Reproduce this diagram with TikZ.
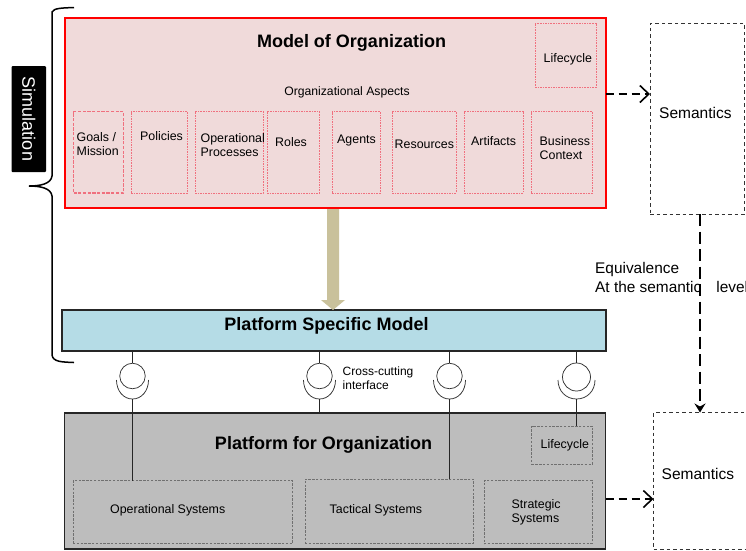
\documentclass[tikz,border=0pt]{standalone}
\usepackage{fontspec}
\setmainfont{Liberation Sans}
\usetikzlibrary{arrows.meta}
\definecolor{modelfill}{HTML}{F0DADA}
\definecolor{psmfill}{HTML}{B5DCE6}
\definecolor{platfill}{HTML}{BDBDBD}
\definecolor{khaki}{HTML}{C9C19B}
\definecolor{dashred}{HTML}{F0707E}
\definecolor{dashgray}{HTML}{707070}
\newcommand{\fsz}[1]{\fontsize{#1pt}{#1pt}\selectfont}
\tikzset{
  x=1pt,y=-1pt,
  box/.style={anchor=north west,inner sep=0pt,outer sep=0pt},
  aspect/.style={box,draw=dashred,dash pattern=on 1.6pt off 1pt,line width=1pt},
  goalaspect/.style={box,draw=dashred,dash pattern=on 3.2pt off 1.5pt,line width=1.4pt},
  sysbox/.style={box,draw=dashgray,dash pattern=on 2.4pt off 1.4pt,line width=0.8pt},
  sembox/.style={box,draw=black!80,dash pattern=on 3.5pt off 3pt,line width=0.75pt},
  label/.style={inner sep=0pt,align=left,anchor=west,font=\fsz{12.4}},
  title/.style={inner sep=0pt,font=\fsz{18}\bfseries},
  semlabel/.style={inner sep=0pt,anchor=west,font=\fsz{15.5}},
  dasharrow/.style={line width=1.6pt,dash pattern=on 8pt off 5pt,-{Straight Barb[length=9pt,width=17pt,line width=1.6pt]}},
  vdasharrow/.style={line width=1.6pt,dash pattern=on 12pt off 5.5pt,-{Stealth[length=9pt,width=11pt,inset=3pt]}},
  ball/.style={circle,draw=black!80,line width=0.75pt,inner sep=0pt,outer sep=0pt},
  socket/.style={draw=black!80,line width=0.75pt},
  wire/.style={draw=black!85,line width=1pt}
}
\begin{document}
\begin{tikzpicture}
\useasboundingbox (0,0) rectangle (746,550);
% main boxes
\node[box,fill=modelfill,draw=red,line width=2pt,minimum width=541pt,minimum height=190pt] (model) at (64.5,18) {};
\node[box,fill=psmfill,draw=black!85,line width=2pt,minimum width=544pt,minimum height=41pt] (psm) at (62,310) {};
\node[box,fill=platfill,draw=black!85,line width=1.6pt,minimum width=541pt,minimum height=136pt] (plat) at (64.5,413) {};
\node[sembox,minimum width=94pt,minimum height=191pt] (semtop) at (650,23) {};
\node[sembox,minimum width=110pt,minimum height=137pt] (sembot) at (653.5,412.5) {};
% titles
\node[title] at (351.5,43) {Model of Organization};
\node[title] at (326.5,325.5) {Platform Specific Model};
\node[title] at (323.5,445) {Platform for Organization};
\node[inner sep=0pt,font=\fsz{12.2}] at (347,92) {Organizational Aspects};
% aspects
\node[goalaspect,minimum width=50pt,minimum height=81.5pt] (a1) at (73.5,111.5) {};
\node[aspect,minimum width=56pt,minimum height=81.5pt] (a2) at (131,111.5) {};
\node[aspect,minimum width=68pt,minimum height=81.5pt] (a3) at (195,111.5) {};
\node[aspect,minimum width=52.5pt,minimum height=81.5pt] (a4) at (267,111.5) {};
\node[aspect,minimum width=48pt,minimum height=81.5pt] (a5) at (332,111.5) {};
\node[aspect,minimum width=64pt,minimum height=81.5pt] (a6) at (392,111.5) {};
\node[aspect,minimum width=59pt,minimum height=81.5pt] (a7) at (464,111.5) {};
\node[aspect,minimum width=61pt,minimum height=81.5pt] (a8) at (531,111.5) {};
\node[aspect,minimum width=61pt,minimum height=64pt] (life) at (535,23) {};
\node[label] at (76.5,144) {Goals /\\[2pt]Mission};
\node[label] at (140,136.5) {Policies};
\node[label] at (200.5,145) {Operational\\[2pt]Processes};
\node[label] at (275,142) {Roles};
\node[label] at (337,140.5) {Agents};
\node[label] at (394.5,144) {Resources};
\node[label] at (471,141) {Artifacts};
\node[label] at (539.5,148) {Business\\[2pt]Context};
\node[label] at (543.5,59.5) {Lifecycle};
% platform inner
\node[sysbox,minimum width=219.5pt,minimum height=63pt] (ops) at (73,480.5) {};
\node[sysbox,minimum width=168.5pt,minimum height=64pt] (tac) at (305,479) {};
\node[sysbox,minimum width=108pt,minimum height=63pt] (str) at (484,480.5) {};
\node[sysbox,minimum width=61pt,minimum height=38pt] (plife) at (531.5,426) {};
\node[label] at (110,510.5) {Operational Systems};
\node[label] at (329.5,510) {Tactical Systems};
\node[label] at (511.5,512) {Strategic\\[2pt]Systems};
\node[label] at (540.5,445.5) {Lifecycle};
% semantics labels
\node[semlabel] at (659,113) {Semantics};
\node[semlabel] at (661.5,474) {Semantics};
% refinement arrow
\coordinate (ktop) at (333,208);
\fill[khaki] (model.south -| ktop) ++(-6,1) -- ++(12,0) -- (339,300) -- (345,300) -- (333,310) -- (321,300) -- (327,300) -- cycle;
% dashed arrows
\coordinate (y1) at (0,94);
\coordinate (y2) at (0,499);
\coordinate (x3) at (700,0);
\node[inner sep=0pt,anchor=west,font=\fsz{15.4}] at (595,269.5) {Equivalence};
\node[inner sep=0pt,anchor=west,font=\fsz{15.4}] at (595,287) {At the semantic\hspace{15pt}level};
\draw[dasharrow] (model.east |- y1) -- (semtop.west |- y1);
\draw[dasharrow] (plat.east |- y2) -- (sembot.west |- y2);
\draw[vdasharrow] (semtop.south -| x3) -- (sembot.north -| x3);
% lollipops
\node[ball,minimum size=25.5pt] (b1) at (132.5,376) {};
\node[ball,minimum size=25.5pt] (b2) at (319.5,376) {};
\node[ball,minimum size=25.5pt] (b3) at (449.5,376) {};
\node[ball,minimum size=28pt] (b4) at (576.5,377) {};
\coordinate (s1) at (132.5,399);
\coordinate (s2) at (319.5,399);
\coordinate (s3) at (449.5,399);
\coordinate (s4) at (576.5,399);
\foreach \cx in {132.5,319.5,449.5}{
  \draw[socket] ({\cx-16},380) .. controls ({\cx-16},391) and ({\cx-9},399) .. (\cx,399) .. controls ({\cx+9},399) and ({\cx+16},391) .. ({\cx+16},380);
}
\draw[socket] (558,380) .. controls (558,391) and (566,399) .. (s4) .. controls (587,399) and (595,391) .. (595,380);
\draw[wire] (psm.south -| b1) -- (b1.north);
\draw[wire] (psm.south -| b2) -- (b2.north);
\draw[wire] (psm.south -| b3) -- (b3.north);
\draw[wire] (psm.south -| b4) -- (b4.north);
\draw[wire] (s1) -- (ops.north -| s1);
\draw[wire,line width=1.6pt] (s2) -- (plat.north -| s2);
\draw[wire] (s3) -- (tac.north -| s3);
\draw[wire] (s4) -- (plife.north -| s4);
\node[inner sep=0pt,anchor=west,align=left,font=\fsz{12}] at (342.5,378.5) {Cross-cutting\\[2pt]interface};
% simulation brace
\draw[line width=1.5pt,black] (74,7.5) .. controls (62,8) and (54,8) .. (52,12) -- (52,176) .. controls (51,184) and (40,186) .. (29,186) .. controls (40,186) and (51,188) .. (52,196) -- (52,355) .. controls (53,362) and (62,362) .. (74,362.5);
\node[box,fill=black,rounded corners=1pt,minimum width=34.5pt,minimum height=106pt] (sim) at (11.5,66) {};
\node[rotate=-90,text=white,inner sep=0pt,font=\fsz{18}] at (sim.center) {Simulation};
\end{tikzpicture}
\end{document}
